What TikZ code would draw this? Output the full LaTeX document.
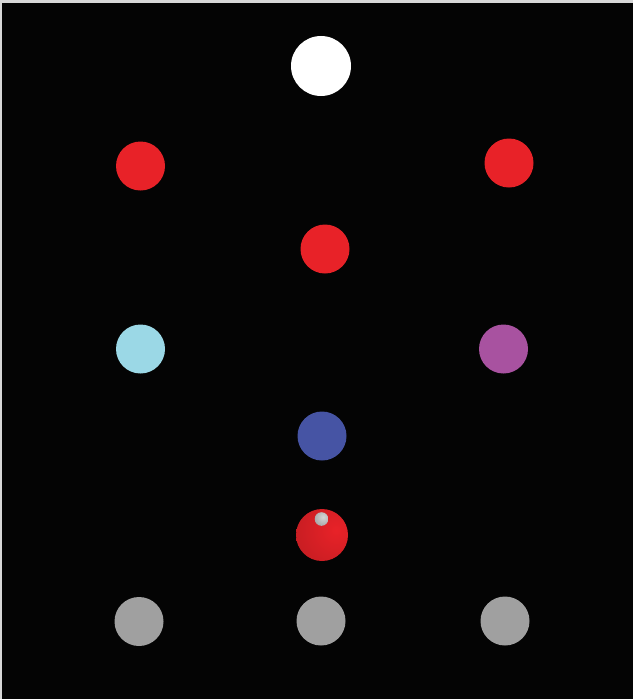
\documentclass[tikz,border=0pt]{standalone}
\usepackage{tikz}
\usepackage{xcolor}
\definecolor{bgblack}{RGB}{4,4,4}
\definecolor{edgegray}{RGB}{215,215,215}
\definecolor{ballred}{RGB}{232,34,40}
\definecolor{ballcyan}{RGB}{155,216,230}
\definecolor{ballpurple}{RGB}{168,82,160}
\definecolor{ballblue}{RGB}{70,84,164}
\definecolor{ballgray}{RGB}{160,160,160}

\begin{document}
\begin{tikzpicture}[x=0.03cm, y=-0.03cm,
    ball/.style={circle, inner sep=0pt, minimum size=1.47cm},
    bigball/.style={circle, inner sep=0pt, minimum size=1.8cm}]
    % frame
    \fill[edgegray] (0,0) rectangle (633,699);
    \fill[bgblack] (2,3) rectangle (633,699);
    \useasboundingbox (0,0) rectangle (633,699);

    \node[bigball, fill=white] (top) at (321,66) {};

    \node[ball, fill=ballred] (redleft) at (140.5,166) {};
    \node[ball, fill=ballred] (redright) at (509,163) {};
    \node[ball, fill=ballred] (redmid) at (325,249) {};

    \node[ball, fill=ballcyan] (cyan) at (140.5,349) {};
    \node[ball, fill=ballpurple] (purple) at (503.5,349) {};

    \node[ball, fill=ballblue] (blue) at (322,436) {};

    % shaded red ball with a small grey sphere
    \begin{scope}
        \clip (322,535) circle (26);
        \shade[inner color=ballred, outer color=ballred!72!black] (336,530) circle (84);
    \end{scope}
    \begin{scope}
        \clip (321.5,519) circle (6.8);
        \shade[inner color=ballgray!45!white, outer color=ballgray!85!black] (323,517) circle (16);
    \end{scope}
    \coordinate (knob) at (321.5,519);

    \node[ball, fill=ballgray] (grayleft) at (139,621.5) {};
    \node[ball, fill=ballgray] (graymid) at (321,621) {};
    \node[ball, fill=ballgray] (grayright) at (505,621) {};
\end{tikzpicture}
\end{document}
